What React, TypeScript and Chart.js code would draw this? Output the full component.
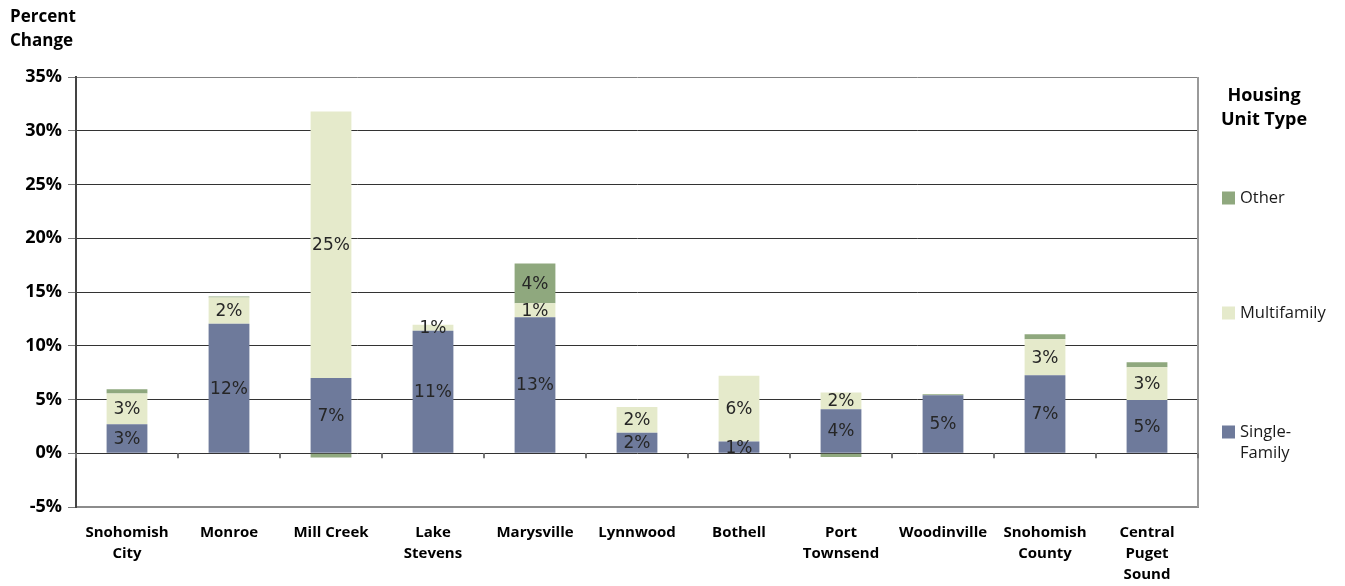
import React, { useEffect, useRef } from "react";
import { Chart, registerables } from "chart.js";

Chart.register(...registerables);

// Places compared
const categories: string[][] = [
  ["Snohomish", "City"],
  ["Monroe"],
  ["Mill Creek"],
  ["Lake", "Stevens"],
  ["Marysville"],
  ["Lynnwood"],
  ["Bothell"],
  ["Port", "Townsend"],
  ["Woodinville"],
  ["Snohomish", "County"],
  ["Central", "Puget", "Sound"],
];

// Percent change in housing units, by unit type
const singleFamily = [2.7, 12.05, 7.0, 11.4, 12.65, 1.9, 1.1, 4.1, 5.4, 7.25, 4.95];
const multifamily = [2.85, 2.45, 24.8, 0.55, 1.3, 2.4, 6.1, 1.55, 0, 3.35, 3.05];
const other = [0.4, 0.08, -0.4, 0, 3.7, 0, 0, -0.35, 0.1, 0.48, 0.46];

const yTicks = [-5, 0, 5, 10, 15, 20, 25, 30, 35];

const seriesNames = ["Single-Family", "Multifamily", "Other"];
const seriesColors = ["#6e7a9b", "#e5eacb", "#8fa87e"];
const legendLines: string[][] = [["Single-", "Family"], ["Multifamily"], ["Other"]];

const labelFont = "17px 'DejaVu Sans', sans-serif";

const barLabels = {
  id: "barLabels",
  afterDatasetsDraw(chart: any) {
    const ctx = chart.ctx;
    ctx.save();
    ctx.font = labelFont;
    ctx.fillStyle = "#262626";
    ctx.textAlign = "center";
    ctx.textBaseline = "middle";
    chart.data.datasets.forEach((ds: any, di: number) => {
      const meta = chart.getDatasetMeta(di);
      meta.data.forEach((el: any, i: number) => {
        const v = ds.data[i];
        if (Math.abs(v) < 0.5) return;
        const y = (el.y + el.base) / 2;
        ctx.fillText(Math.round(v) + "%", el.x, y + 1);
      });
    });
    ctx.restore();
  },
};

const frameAndLegend = {
  id: "frameAndLegend",
  afterDraw(chart: any) {
    const ctx = chart.ctx;
    const area = chart.chartArea;
    const xs = chart.scales.x;
    const ys = chart.scales.y;
    ctx.save();

    // right frame edge
    ctx.strokeStyle = "#9a9a9a";
    ctx.lineWidth = 2;
    ctx.beginPath();
    ctx.moveTo(area.right, area.top);
    ctx.lineTo(area.right, area.bottom);
    ctx.stroke();

    // category tick marks on the zero line
    const y0 = ys.getPixelForValue(0);
    const n = categories.length;
    const step = n > 1 ? xs.getPixelForValue(1) - xs.getPixelForValue(0) : 0;
    ctx.strokeStyle = "#777";
    ctx.lineWidth = 2;
    for (let i = 0; i <= n; i++) {
      const x = xs.getPixelForValue(i) - step / 2;
      ctx.beginPath();
      ctx.moveTo(x, y0);
      ctx.lineTo(x, y0 + 5);
      ctx.stroke();
    }

    // axis title
    ctx.fillStyle = "#000";
    ctx.font = "bold 17px 'Open Sans', sans-serif";
    ctx.textAlign = "left";
    ctx.textBaseline = "middle";
    ctx.fillText("Percent", 10, 17);
    ctx.fillText("Change", 10, 41);

    // legend
    const cx = area.right + 66;
    ctx.textAlign = "center";
    ctx.font = "bold 18px 'Open Sans', sans-serif";
    ctx.fillText("Housing", cx, 96);
    ctx.fillText("Unit Type", cx, 120);

    const rowY = [432, 313, 198];
    ctx.font = "16.5px 'Open Sans', sans-serif";
    ctx.textAlign = "left";
    for (let s = 0; s < seriesNames.length; s++) {
      const yy = rowY[s];
      ctx.fillStyle = seriesColors[s];
      ctx.fillRect(area.right + 24, yy - 6.5, 13, 13);
      ctx.fillStyle = "#1a1a1a";
      legendLines[s].forEach((line, li) => {
        ctx.fillText(line, area.right + 42, yy + li * 21);
      });
    }
    ctx.restore();
  },
};

export default function App() {
  const canvasRef = useRef<HTMLCanvasElement | null>(null);

  useEffect(() => {
    document.body.style.margin = "0";
    const canvas = canvasRef.current;
    if (!canvas) return;
    const chart = new Chart(canvas, {
      type: "bar",
      data: {
        labels: categories as any,
        datasets: [
          { label: seriesNames[0], data: singleFamily, backgroundColor: seriesColors[0] },
          { label: seriesNames[1], data: multifamily, backgroundColor: seriesColors[1] },
          { label: seriesNames[2], data: other, backgroundColor: seriesColors[2] },
        ],
      },
      options: {
        responsive: false,
        maintainAspectRatio: false,
        animation: false,
        devicePixelRatio: 1,
        layout: { padding: { top: 77, right: 147, left: 0, bottom: 0 } },
        datasets: {
          bar: { barPercentage: 0.4, categoryPercentage: 1.0, borderWidth: 0 },
        },
        plugins: {
          legend: { display: false },
          tooltip: { enabled: false },
          title: { display: false },
        },
        scales: {
          x: {
            stacked: true,
            grid: { display: false, drawTicks: false },
            border: { display: true, color: "#8c8c8c", width: 2 },
            ticks: {
              color: "#000",
              font: { family: "'Open Sans', sans-serif", weight: "bold", size: 15, lineHeight: 1.4 },
              padding: 15,
              maxRotation: 0,
              autoSkip: false,
            },
            afterFit(scale: any) {
              scale.height = 79;
            },
          },
          y: {
            stacked: true,
            min: -5,
            max: 35,
            afterBuildTicks(scale: any) {
              scale.ticks = yTicks.map((v) => ({ value: v }));
            },
            grid: {
              color: (c: any) => (c.tick && c.tick.value === 35 ? "#808080" : "#333"),
              lineWidth: 1,
              tickLength: 8,
              tickColor: "#777",
            },
            border: { display: true, color: "#444", width: 2 },
            ticks: {
              color: "#000",
              font: { family: "'Open Sans', sans-serif", weight: "bold", size: 18 },
              padding: 6,
              callback: (v: any) => v + "%",
            },
            afterFit(scale: any) {
              scale.width = 76;
            },
          },
        },
      },
      plugins: [barLabels, frameAndLegend],
    });
    return () => chart.destroy();
  }, []);

  return (
    <div style={{ position: "absolute", left: 0, top: 0, width: 1345, height: 586 }}>
      <canvas ref={canvasRef} width={1345} height={586} />
    </div>
  );
}
